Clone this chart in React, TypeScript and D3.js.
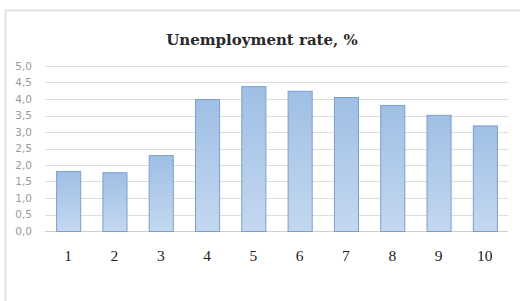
import React, { useEffect, useRef } from 'react';
import * as d3 from 'd3';

const categories = ['1', '2', '3', '4', '5', '6', '7', '8', '9', '10'];
const rates = [1.82, 1.78, 2.3, 4.0, 4.39, 4.25, 4.06, 3.82, 3.52, 3.2];
const yTicks = [0, 0.5, 1, 1.5, 2, 2.5, 3, 3.5, 4, 4.5, 5];

const W = 520;
const H = 301;

const App = () => {
  const svgRef = useRef<SVGSVGElement | null>(null);

  useEffect(() => {
    const svg = d3.select(svgRef.current);
    svg.selectAll('*').remove();

    const margin = { top: 66, right: 12, bottom: 70, left: 45 };
    const width = W - margin.left - margin.right;
    const height = H - margin.top - margin.bottom;

    const defs = svg.append('defs');
    const grad = defs
      .append('linearGradient')
      .attr('id', 'barFill')
      .attr('x1', 0)
      .attr('y1', 0)
      .attr('x2', 0)
      .attr('y2', 1);
    grad.append('stop').attr('offset', '0%').attr('stop-color', '#9fbfe5');
    grad.append('stop').attr('offset', '100%').attr('stop-color', '#c4d8f0');

    // outer frame
    svg
      .append('rect')
      .attr('x', 5.5)
      .attr('y', 10.5)
      .attr('width', 540)
      .attr('height', 320)
      .attr('fill', '#fff')
      .attr('stroke', '#e2e2e2')
      .attr('stroke-width', 2);

    svg
      .append('text')
      .attr('x', 262)
      .attr('y', 45)
      .attr('text-anchor', 'middle')
      .attr('font-family', '"DejaVu Serif", serif')
      .attr('font-weight', 'bold')
      .attr('font-size', 15)
      .attr('fill', '#2a2a2a')
      .text('Unemployment rate, %');

    const x = d3.scaleBand().domain(categories).range([0, width]).paddingInner(0.48).paddingOuter(0.24);
    const y = d3.scaleLinear().domain([0, 5]).range([height, 0]);

    const g = svg.append('g').attr('transform', `translate(${margin.left},${margin.top})`);

    g.selectAll('line.grid')
      .data(yTicks)
      .enter()
      .append('line')
      .attr('x1', 0)
      .attr('x2', width)
      .attr('y1', d => Math.round(y(d)) + 0.5)
      .attr('y2', d => Math.round(y(d)) + 0.5)
      .attr('stroke', d => (d === 0 ? '#cfcfcf' : '#dedede'))
      .attr('stroke-width', 1);

    g.selectAll('text.ytick')
      .data(yTicks)
      .enter()
      .append('text')
      .attr('x', -13)
      .attr('y', d => y(d))
      .attr('dy', '0.35em')
      .attr('text-anchor', 'end')
      .attr('font-family', '"DejaVu Sans", sans-serif')
      .attr('font-size', 10.5)
      .attr('fill', '#9a9a9a')
      .text(d => d3.format('.1f')(d).replace('.', ','));

    g.selectAll('rect.bar')
      .data(rates)
      .enter()
      .append('rect')
      .attr('x', (d, i) => x(categories[i])! + 0.5)
      .attr('y', d => y(d) + 0.5)
      .attr('width', x.bandwidth())
      .attr('height', d => height - y(d))
      .attr('fill', 'url(#barFill)')
      .attr('stroke', '#7b9fcb')
      .attr('stroke-width', 1);

    g.selectAll('text.xtick')
      .data(categories)
      .enter()
      .append('text')
      .attr('x', d => x(d)! + x.bandwidth() / 2)
      .attr('y', height + 30)
      .attr('text-anchor', 'middle')
      .attr('font-family', '"Liberation Serif", serif')
      .attr('font-size', 15.5)
      .attr('fill', '#222')
      .text(d => d);
  }, []);

  return (
    <svg
      ref={svgRef}
      width={W}
      height={H}
      style={{ position: 'absolute', left: 0, top: 0, background: '#fff' }}
    />
  );
};

export default App;
